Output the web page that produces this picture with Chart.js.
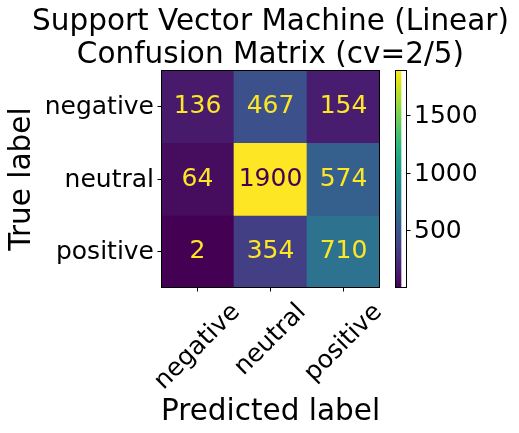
<!DOCTYPE html>
<html><head><meta charset="utf-8">
<script src="https://cdn.jsdelivr.net/npm/chart.js@4/dist/chart.umd.min.js"></script>
<style>
html,body{margin:0;padding:0;background:#fff;}
#wrap{position:relative;width:519px;height:433px;overflow:hidden;}
#c1{position:absolute;left:0;top:0;}
#c2{position:absolute;left:380px;top:0;}
</style></head>
<body><div id="wrap"><canvas id="c1" width="519" height="433"></canvas><canvas id="c2" width="139" height="433"></canvas></div>
<script>
// ---- data ----
const trueLabels = ['negative', 'neutral', 'positive'];
const predLabels = ['negative', 'neutral', 'positive'];
const rowNegative = [136, 467, 154];
const rowNeutral = [64, 1900, 574];
const rowPositive = [2, 354, 710];
const colorbarTicks = [500, 1000, 1500];
const titleLines = ['Support Vector Machine (Linear)', 'Confusion Matrix (cv=2/5)'];
const xTitle = 'Predicted label';
const yTitle = 'True label';

const rows = [rowNegative, rowNeutral, rowPositive];
const allVals = rows.flat();
const vmin = Math.min(...allVals), vmax = Math.max(...allVals);

// viridis colormap
const VIR = ['#440154','#471365','#482475','#463480','#414487','#3b528b','#355f8d','#2f6c8e','#2a788e','#25848e','#21918c','#1e9c89','#22a884','#2fb47c','#44bf70','#5ec962','#7ad151','#9bd93c','#bddf26','#dfe318','#fde725'];
function hex(h){return [parseInt(h.slice(1,3),16),parseInt(h.slice(3,5),16),parseInt(h.slice(5,7),16)];}
function viridis(t){
  t = Math.max(0, Math.min(1, t));
  const p = t * (VIR.length - 1), i = Math.min(Math.floor(p), VIR.length - 2), f = p - i;
  const a = hex(VIR[i]), b = hex(VIR[i+1]);
  return 'rgb(' + a.map((v,k)=>Math.round(v + (b[k]-v)*f)).join(',') + ')';
}
const norm = v => (v - vmin) / (vmax - vmin);

const FONT = 'DejaVu Sans';

const datasets = rows.map((row, i) => ({
  label: trueLabels[i],
  data: row.map(() => [i - 0.5, i + 0.5]),
  backgroundColor: row.map(v => viridis(norm(v))),
  borderWidth: 0,
  grouped: false,
  barPercentage: 1,
  categoryPercentage: 1
}));

const overlay = {
  id: 'overlay',
  afterDatasetsDraw(chart) {
    const ctx = chart.ctx, xs = chart.scales.x, ys = chart.scales.y;
    ctx.save();
    ctx.font = '25px "' + FONT + '"';
    ctx.textAlign = 'center';
    ctx.textBaseline = 'alphabetic';
    const thr = (vmin + vmax) / 2;
    rows.forEach((row, i) => row.forEach((v, j) => {
      ctx.fillStyle = v > thr ? viridis(0) : viridis(1);
      ctx.fillText(String(v), xs.getPixelForValue(j), ys.getPixelForValue(i) + 6.5);
    }));
    ctx.restore();
  },
  afterDraw(chart) {
    const ctx = chart.ctx, a = chart.chartArea, xs = chart.scales.x;
    ctx.save();
    // frame
    ctx.strokeStyle = '#000'; ctx.lineWidth = 1;
    ctx.strokeRect(a.left + 0.5, a.top + 0.5, a.right - a.left - 1, a.bottom - a.top - 1);
    ctx.fillStyle = '#000';
    const cx = (a.left + a.right) / 2;
    // title
    ctx.font = '29.5px "' + FONT + '"';
    ctx.textAlign = 'center'; ctx.textBaseline = 'alphabetic';
    ctx.fillText(titleLines[0], cx, 29.5);
    ctx.fillText(titleLines[1], cx, 63);
    // x title
    ctx.fillText(xTitle, cx, 420);
    // y title
    ctx.save();
    ctx.translate(29.5, (a.top + a.bottom) / 2);
    ctx.rotate(-Math.PI / 2);
    ctx.fillText(yTitle, 0, 0);
    ctx.restore();
    // rotated x tick labels (centered bbox, matplotlib style)
    ctx.font = '25px "' + FONT + '"';
    ctx.textAlign = 'center'; ctx.textBaseline = 'middle';
    const h = 25 * 1.164, c = Math.SQRT1_2;
    predLabels.forEach((lab, j) => {
      const w = ctx.measureText(lab).width;
      const bh = (w + h) * c;
      const px = xs.getPixelForValue(j);
      const py = a.bottom + 10 + bh / 2;
      ctx.save();
      ctx.translate(px, py);
      ctx.rotate(-Math.PI / 4);
      ctx.fillText(lab, 0, 0);
      ctx.restore();
    });
    ctx.restore();
  }
};

new Chart(document.getElementById('c1'), {
  type: 'bar',
  data: { labels: predLabels, datasets },
  options: {
    responsive: false, animation: false, devicePixelRatio: 1,
    layout: { padding: { top: 70, right: 139, left: 0, bottom: 0 } },
    plugins: { legend: { display: false }, tooltip: { enabled: false }, title: { display: false } },
    scales: {
      x: {
        type: 'category', offset: true,
        grid: { offset: false, drawOnChartArea: false, drawTicks: true, tickLength: 3.5, color: '#000' },
        border: { display: false },
        ticks: { display: false },
        afterFit(s) { s.height = 145; }
      },
      y: {
        type: 'linear', min: -0.5, max: 2.5, reverse: true,
        grid: { drawOnChartArea: false, drawTicks: true, tickLength: 3.5, color: '#000' },
        border: { display: false },
        afterBuildTicks(s) { s.ticks = trueLabels.map((_, i) => ({ value: i })); },
        ticks: {
          padding: 3.5, color: '#000', labelOffset: 1,
          font: { family: FONT, size: 25 },
          callback: v => trueLabels[v]
        },
        afterFit(s) { s.width = 161; }
      }
    }
  },
  plugins: [overlay]
});

// ---- colorbar ----
const cbFrame = {
  id: 'cbFrame',
  afterDraw(chart) {
    const ctx = chart.ctx, a = chart.chartArea;
    ctx.save(); ctx.strokeStyle = '#000'; ctx.lineWidth = 1;
    ctx.strokeRect(a.left + 0.5, a.top + 0.5, a.right - a.left - 1, a.bottom - a.top - 1);
    ctx.restore();
  }
};
new Chart(document.getElementById('c2'), {
  type: 'bar',
  data: { labels: ['cb'], datasets: [{
    data: [[vmin, vmax]], borderWidth: 0, barPercentage: 1, categoryPercentage: 1,
    backgroundColor(c) {
      const a = c.chart.chartArea; if (!a) return viridis(0.5);
      const g = c.chart.ctx.createLinearGradient(0, a.bottom, 0, a.top);
      VIR.forEach((col, k) => g.addColorStop(k / (VIR.length - 1), col));
      return g;
    }
  }] },
  options: {
    responsive: false, animation: false, devicePixelRatio: 1,
    layout: { padding: { top: 70, right: 0, left: 15, bottom: 145 } },
    plugins: { legend: { display: false }, tooltip: { enabled: false } },
    scales: {
      x: { display: false, offset: false },
      y: {
        position: 'right', type: 'linear', min: vmin, max: vmax,
        grid: { drawOnChartArea: false, drawTicks: true, tickLength: 3.5, color: '#000' },
        border: { display: false },
        afterBuildTicks(s) { s.ticks = colorbarTicks.map(v => ({ value: v })); },
        ticks: { padding: 3.5, color: '#000', labelOffset: 1, font: { family: FONT, size: 25 },
          callback: v => String(v) },
        afterFit(s) { s.width = 112; }
      }
    }
  },
  plugins: [cbFrame]
});
</script>
</body></html>
